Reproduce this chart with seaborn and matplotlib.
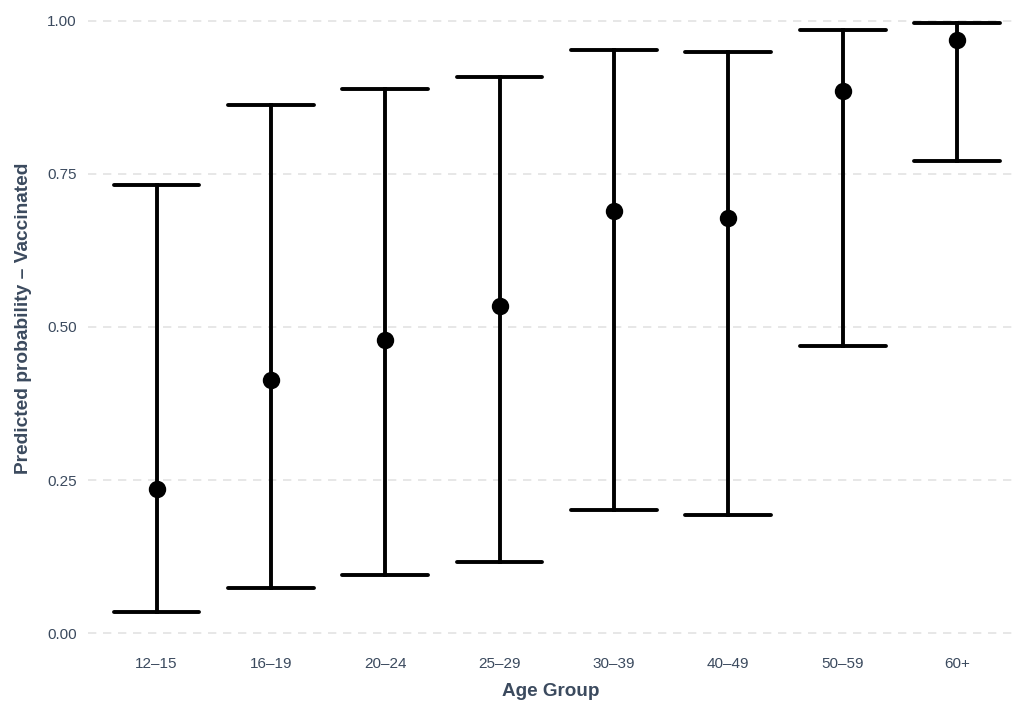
import matplotlib
matplotlib.use("Agg")
import matplotlib.pyplot as plt
import pandas as pd
import seaborn as sns

age_groups = ["12–15", "16–19", "20–24", "25–29", "30–39", "40–49", "50–59", "60+"]
estimate = [0.235, 0.413, 0.479, 0.534, 0.690, 0.678, 0.886, 0.969]
lower = [0.034, 0.074, 0.095, 0.116, 0.201, 0.193, 0.469, 0.771]
upper = [0.732, 0.863, 0.889, 0.908, 0.953, 0.949, 0.985, 0.997]

# long table: lower / estimate / upper per group -> median = estimate, 100% interval = CI
rows = []
for g, lo, est, hi in zip(age_groups, lower, estimate, upper):
    for v in (lo, est, hi):
        rows.append({"Age Group": g, "prob": v})
df = pd.DataFrame(rows)

sns.set_style("white")
plt.rcParams["font.family"] = ["Liberation Sans", "DejaVu Sans"]
txt = "#3b4a5e"

fig = plt.figure(figsize=(10.13, 7.02), dpi=100)
ax = fig.add_axes([88 / 1013, 57 / 702, 925 / 1013, 645 / 702])

sns.pointplot(data=df, x="Age Group", y="prob", order=age_groups,
              estimator="median", errorbar=("pi", 100), capsize=0.75,
              linestyle="none", color="black", markersize=10.5,
              err_kws={"linewidth": 2.8}, ax=ax)

ax.set_xlim(-0.6, 7.49)
ax.set_ylim(-0.0196, 1.0343)
ax.set_yticks([0, 0.25, 0.5, 0.75, 1.0])
ax.set_yticklabels(["0.00", "0.25", "0.50", "0.75", "1.00"])
ax.yaxis.grid(True, color="#e3e3e3", linestyle=(0, (5, 4)), linewidth=1.2)
ax.set_axisbelow(True)
for s in ax.spines.values():
    s.set_visible(False)
ax.tick_params(axis="both", length=0, labelsize=11, labelcolor=txt)
ax.tick_params(axis="x", pad=9)
ax.tick_params(axis="y", pad=8)

ax.set_xlabel("Age Group", fontsize=13.6, fontweight="bold", color=txt, labelpad=8)
ax.set_ylabel("Predicted probability – Vaccinated", fontsize=13.8,
              fontweight="bold", color=txt)
ax.yaxis.set_label_coords(-0.061, 0.507)

fig.savefig("out.png", dpi=100)
